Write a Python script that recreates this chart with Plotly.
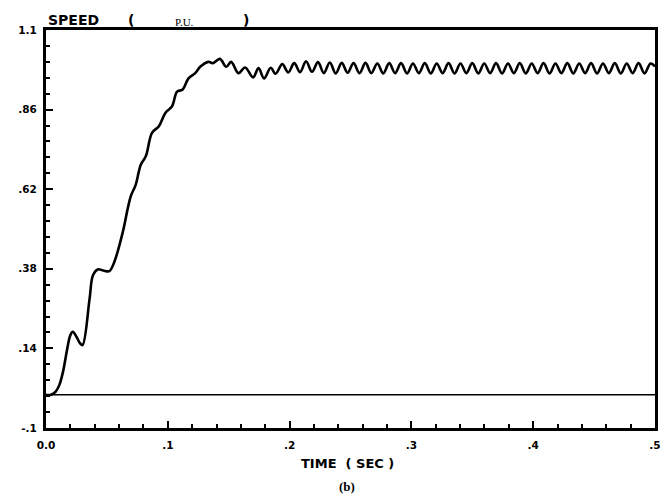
import plotly.graph_objects as go

# Rising portion (time in s, speed in p.u.)
t_rise = [0.000, 0.004, 0.008, 0.011, 0.014, 0.017, 0.020, 0.022, 0.025, 0.028, 0.030,
          0.0358, 0.0385, 0.0425, 0.047, 0.052, 0.056, 0.063, 0.067, 0.0697, 0.0737,
          0.0778, 0.082, 0.087, 0.0927, 0.098, 0.1035, 0.1076, 0.112, 0.117, 0.1225,
          0.1266, 0.1333, 0.137]
v_rise = [0.0, 0.0, 0.01, 0.03, 0.07, 0.13, 0.18, 0.19, 0.175, 0.155, 0.15,
          0.29, 0.36, 0.378, 0.375, 0.373, 0.40, 0.49, 0.56, 0.60, 0.634,
          0.694, 0.72, 0.79, 0.81, 0.85, 0.87, 0.914, 0.92, 0.954, 0.97,
          0.989, 1.004, 1.0]

# Oscillating portion: alternating peaks and troughs
t_osc = [0.1428, 0.148, 0.152, 0.158, 0.1635, 0.170, 0.1745, 0.179, 0.1845, 0.1885,
         0.1940, 0.1989, 0.2038, 0.2086, 0.2135, 0.2184, 0.2233, 0.2281, 0.2330, 0.2379,
         0.2428, 0.2476, 0.2525, 0.2574, 0.2623, 0.2671, 0.2720, 0.2769, 0.2818, 0.2866,
         0.2915, 0.2964, 0.3013, 0.3061, 0.3110, 0.3159, 0.3208, 0.3256, 0.3305, 0.3354,
         0.3403, 0.3451, 0.3500, 0.3549, 0.3598, 0.3646, 0.3695, 0.3744, 0.3793, 0.3841,
         0.3890, 0.3939, 0.3988, 0.4036, 0.4085, 0.4134, 0.4183, 0.4231, 0.4280, 0.4329,
         0.4378, 0.4426, 0.4475, 0.4524, 0.4573, 0.4621, 0.4670, 0.4719, 0.4768, 0.4816,
         0.4865, 0.4914, 0.4963, 0.5000]
v_osc = [1.013, 0.989, 1.004, 0.970, 0.987, 0.957, 0.985, 0.954, 0.986, 0.968,
         0.997, 0.972, 1.000, 0.973, 1.006, 0.974, 1.003, 0.970, 1.002, 0.969,
         1.001, 0.971, 1.000, 0.970, 1.001, 0.970, 0.999, 0.969, 1.000, 0.970,
         1.000, 0.969, 0.999, 0.970, 1.000, 0.969, 0.999, 0.970, 1.000, 0.969,
         0.999, 0.970, 1.000, 0.969, 0.999, 0.970, 1.000, 0.969, 0.999, 0.970,
         1.000, 0.969, 0.999, 0.970, 1.000, 0.969, 0.999, 0.970, 1.000, 0.969,
         0.999, 0.970, 1.000, 0.969, 0.999, 0.970, 1.000, 0.969, 0.999, 0.970,
         1.000, 0.969, 0.999, 0.990]

t_all = t_rise + t_osc
v_all = v_rise + v_osc

# Reference zero line
t_zero = [0.0, 0.5]
v_zero = [0.0, 0.0]

y_tickvals = [-0.1, 0.14, 0.38, 0.62, 0.86, 1.1]
y_ticktext = ["-.1", ".14", ".38", ".62", ".86", "1.1"]
x_tickvals = [0.0, 0.1, 0.2, 0.3, 0.4, 0.5]
x_ticktext = ["0.0", ".1", ".2", ".3", ".4", ".5"]

fig = go.Figure()
fig.add_trace(go.Scatter(x=t_zero, y=v_zero, mode="lines",
                         line=dict(color="black", width=1.5), hoverinfo="skip"))
fig.add_trace(go.Scatter(x=t_all, y=v_all, mode="lines",
                         line=dict(color="black", width=2.6, shape="spline", smoothing=1.0)))

tickfont = dict(family="DejaVu Sans", size=10.5, color="black", weight="bold")

fig.update_layout(
    width=671, height=498,
    margin=dict(l=46, r=10, t=30, b=70),
    paper_bgcolor="white", plot_bgcolor="white",
    showlegend=False,
    xaxis=dict(range=[0, 0.5], tickvals=x_tickvals, ticktext=x_ticktext,
               ticks="inside", ticklen=7, tickwidth=2, tickcolor="black",
               showline=True, linecolor="black", linewidth=3, mirror=True,
               showgrid=False, zeroline=False, tickfont=tickfont,
               ticklabelstandoff=5,
               minor=dict(ticks="inside", dtick=0.02, tick0=0, ticklen=4,
                          tickwidth=1.5, tickcolor="black", showgrid=False)),
    yaxis=dict(range=[-0.1, 1.1], tickvals=y_tickvals, ticktext=y_ticktext,
               ticks="inside", ticklen=7, tickwidth=2, tickcolor="black",
               showline=True, linecolor="black", linewidth=3, mirror=True,
               showgrid=False, zeroline=False, tickfont=tickfont,
               ticklabelstandoff=4,
               minor=dict(ticks="inside", dtick=0.048, tick0=-0.1, ticklen=4,
                          tickwidth=1.5, tickcolor="black", showgrid=False)),
)

title_font = dict(family="DejaVu Sans", size=14, color="black", weight="bold")
fig.add_annotation(text="SPEED", xref="paper", yref="paper", x=0.0, y=1.0,
                   xanchor="left", yanchor="bottom", showarrow=False, font=title_font, yshift=0)
fig.add_annotation(text="(", xref="paper", yref="paper", x=0.131, y=1.0,
                   xanchor="left", yanchor="bottom", showarrow=False, font=title_font, yshift=0)
fig.add_annotation(text="P.U.", xref="paper", yref="paper", x=0.208, y=1.0,
                   xanchor="left", yanchor="bottom", showarrow=False,
                   font=dict(family="Liberation Serif", size=11, color="black"), yshift=0)
fig.add_annotation(text=")", xref="paper", yref="paper", x=0.32, y=1.0,
                   xanchor="left", yanchor="bottom", showarrow=False, font=title_font, yshift=0)
fig.add_annotation(text="TIME  ( SEC )", xref="paper", yref="paper", x=0.495, y=0.0,
                   xanchor="center", yanchor="top", showarrow=False,
                   font=dict(family="DejaVu Sans", size=13, color="black", weight="bold"), yshift=-26)
fig.add_annotation(text="(b)", xref="paper", yref="paper", x=0.495, y=0.0,
                   xanchor="center", yanchor="top", showarrow=False,
                   font=dict(family="Liberation Serif", size=13, color="black", weight="bold"), yshift=-49)

fig.write_html("out.html")
